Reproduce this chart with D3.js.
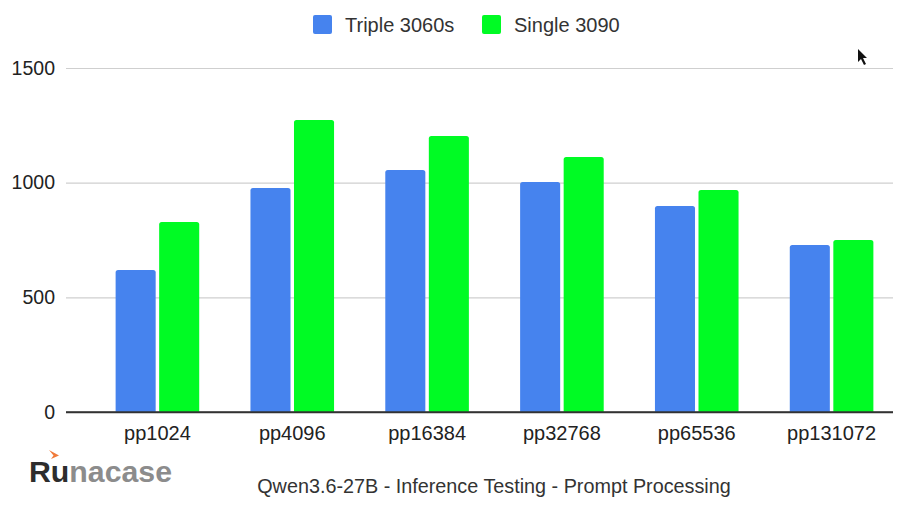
<!DOCTYPE html>
<html>
<head>
<meta charset="utf-8">
<script src="https://cdn.jsdelivr.net/npm/d3@7"></script>
<style>
  body { margin: 0; background: #fff; }
  text { font-family: Arial, "Liberation Sans", sans-serif; }
</style>
</head>
<body>
<div id="chart"></div>
<script>
// categories and series
const categories = ["pp1024", "pp4096", "pp16384", "pp32768", "pp65536", "pp131072"];
const seriesNames = ["Triple 3060s", "Single 3090"];
const triple3060 = [619, 977, 1055, 1003, 898, 728];
const single3090 = [829, 1273, 1204, 1112, 968, 750];
const yTicks = [0, 500, 1000, 1500];
const title = "Qwen3.6-27B - Inference Testing - Prompt Processing";

const colors = ["#4683ee", "#00fb24"];
const width = 900, height = 508;
const font = "Arial, 'Liberation Sans', sans-serif";

const svg = d3.select("#chart").append("svg")
    .attr("width", width)
    .attr("height", height);

// y scale
const y = d3.scaleLinear()
    .domain([0, 1500])
    .range([412, 68]);

// x scales
const x = d3.scaleBand()
    .domain(categories)
    .range([90, 899])
    .paddingInner(0.38)
    .paddingOuter(0.19);

const xSub = d3.scaleBand()
    .domain(seriesNames)
    .range([0, x.bandwidth()])
    .paddingInner(0.08);

// gridlines + y labels
const yAxis = svg.append("g")
    .attr("transform", "translate(66,0)")
    .call(d3.axisLeft(y).tickValues(yTicks).tickFormat(d3.format("d")).tickSize(-827).tickPadding(11));
yAxis.select(".domain").remove();
yAxis.selectAll(".tick line")
    .attr("stroke", d => d === 0 ? "#333" : "#cfcfcf")
    .attr("stroke-width", d => d === 0 ? 1.3 : 1.2);
yAxis.selectAll(".tick text")
    .attr("font-size", 19.5)
    .attr("fill", "#222")
    .attr("font-family", font);

// bars
const rows = categories.map((c, i) => ({cat: c, values: [triple3060[i], single3090[i]]}));

const groups = svg.append("g").selectAll("g")
    .data(rows)
    .join("g")
    .attr("transform", d => `translate(${x(d.cat)},0)`);

groups.selectAll("path")
    .data(d => d.values.map((v, j) => ({name: seriesNames[j], value: v, j})))
    .join("path")
    .attr("fill", d => colors[d.j])
    .attr("d", d => {
        const x0 = xSub(d.name), w = xSub.bandwidth();
        const y0 = y(d.value), yb = y(0), r = 2.5;
        return `M${x0},${yb}V${y0 + r}Q${x0},${y0} ${x0 + r},${y0}H${x0 + w - r}Q${x0 + w},${y0} ${x0 + w},${y0 + r}V${yb}Z`;
    });

// redraw baseline on top
svg.append("line")
    .attr("x1", 66).attr("x2", 893)
    .attr("y1", y(0)).attr("y2", y(0))
    .attr("stroke", "#333").attr("stroke-width", 1.3);

// x labels
const xAxis = svg.append("g")
    .attr("transform", `translate(0,${y(0)})`)
    .call(d3.axisBottom(x).tickSize(0).tickPadding(14));
xAxis.select(".domain").remove();
xAxis.selectAll(".tick text")
    .attr("font-size", 20)
    .attr("fill", "#222")
    .attr("font-family", font);

// legend
const legendX = [313, 482];
const legend = svg.append("g").selectAll("g")
    .data(seriesNames)
    .join("g")
    .attr("transform", (d, i) => `translate(${legendX[i]},15)`);
legend.append("rect")
    .attr("width", 19).attr("height", 19).attr("rx", 2)
    .attr("fill", (d, i) => colors[i]);
legend.append("text")
    .attr("x", 32).attr("y", 17)
    .attr("font-size", 20)
    .attr("fill", "#333")
    .text(d => d);

// title
svg.append("text")
    .attr("x", 494).attr("y", 493)
    .attr("text-anchor", "middle")
    .attr("font-size", 19.8)
    .attr("fill", "#333")
    .text(title);

// watermark logo
const logo = svg.append("text")
    .attr("x", 29).attr("y", 482)
    .attr("font-size", 30)
    .attr("font-weight", "bold")
    .attr("textLength", 143)
    .attr("lengthAdjust", "spacingAndGlyphs");
logo.append("tspan").attr("fill", "#2d2d2d").text("Ru");
logo.append("tspan").attr("fill", "#8c8c8c").text("nacase");
svg.append("path")
    .attr("d", "M49,450 L59,455.5 L51,459 L53.5,455.5 Z")
    .attr("fill", "#f07a3a");

// mouse cursor
svg.append("path")
    .attr("d", "M858,49 L858,62 L861,59 L864,65 L866,64 L863,58 L867,58 Z")
    .attr("fill", "#111");
</script>
</body>
</html>
